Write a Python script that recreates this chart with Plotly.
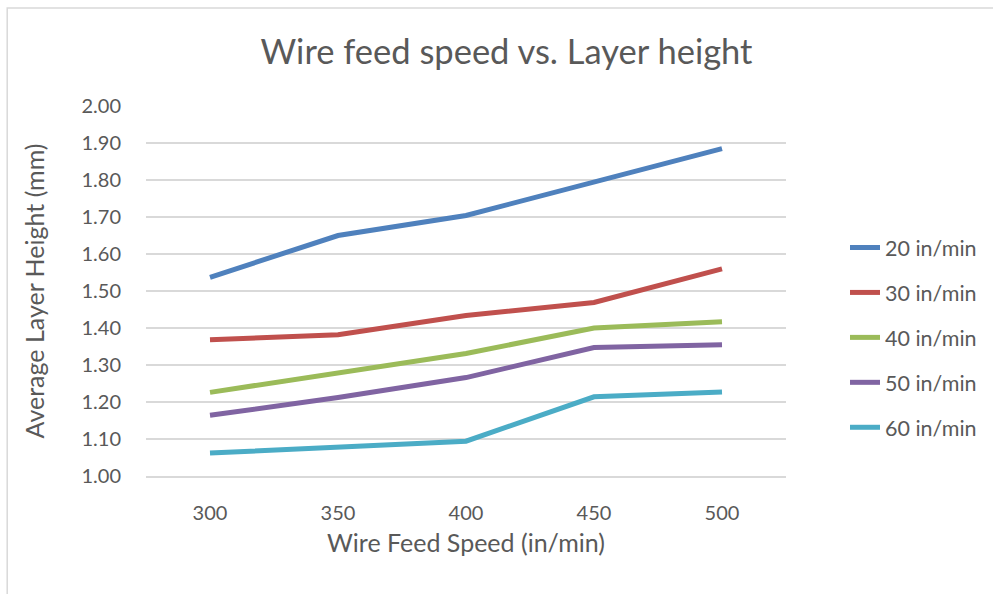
import plotly.graph_objects as go

# ---- data ----
wire_feed_speed = ["300", "350", "400", "450", "500"]
series_names = ["20 in/min", "30 in/min", "40 in/min", "50 in/min", "60 in/min"]
h_20 = [1.537, 1.650, 1.704, 1.796, 1.885]
h_30 = [1.368, 1.382, 1.434, 1.469, 1.560]
h_40 = [1.226, 1.277, 1.331, 1.400, 1.417]
h_50 = [1.164, 1.212, 1.266, 1.347, 1.355]
h_60 = [1.062, 1.077, 1.094, 1.214, 1.227]
y_ticks = [1.0, 1.1, 1.2, 1.3, 1.4, 1.5, 1.6, 1.7, 1.8, 1.9, 2.0]
y_tick_labels = ["1.00", "1.10", "1.20", "1.30", "1.40", "1.50", "1.60", "1.70", "1.80", "1.90", "2.00"]

series_values = [h_20, h_30, h_40, h_50, h_60]
colors = ["#4F81BD", "#C0504D", "#9BBB59", "#8064A2", "#4BACC6"]

FONT = "Lato"
TXT = "#595959"
GRID = "#D9D9D9"

fig = go.Figure()
for i, (name, vals) in enumerate(zip(series_names, series_values)):
    fig.add_trace(go.Scatter(
        x=wire_feed_speed, y=vals, name=name, mode="lines",
        line=dict(color=colors[i], width=5),
        legendgroup=name,
    ))

W, H = 993, 594
ml, mr, mt, mb = 146, 206, 106, 118
pw = W - ml - mr
ph = H - mt - mb

def px_x(p):
    return (p - ml) / pw

def px_y(p):
    return (H - mb - p) / ph

fig.update_layout(
    width=W, height=H,
    margin=dict(l=ml, r=mr, t=mt, b=mb, pad=0),
    paper_bgcolor="white", plot_bgcolor="white",
    font=dict(family=FONT, color=TXT, size=20),
    title=dict(text="Wire feed speed vs. Layer height", font=dict(size=34.5, color=TXT, family=FONT),
               x=506.5 / W, xanchor="center", xref="container",
               y=1 - 52 / H, yanchor="middle", yref="container"),
    xaxis=dict(type="category", range=[-0.5, 4.5], showgrid=False, showline=True,
               linecolor=GRID, linewidth=1.5, ticks="", ticklabelstandoff=18,
               tickfont=dict(size=20, color=TXT),
               title=dict(text="Wire Feed Speed (in/min)", font=dict(size=25, color=TXT), standoff=12),
               fixedrange=True),
    yaxis=dict(range=[1.0, 2.0], tickvals=y_ticks, ticktext=y_tick_labels, showgrid=True,
               gridcolor=GRID, gridwidth=1.5, zeroline=False, showline=False, ticks="",
               ticklabelstandoff=24, tickfont=dict(size=20, color=TXT),
               title=dict(text="Average Layer Height (mm)", font=dict(size=25, color=TXT), standoff=29),
               fixedrange=True),
    legend=dict(x=px_x(845), xanchor="left", y=px_y(227), yanchor="top",
                font=dict(size=21.5, color=TXT), tracegroupgap=14, bgcolor="rgba(0,0,0,0)",
                borderwidth=0),
    showlegend=True,
    shapes=[dict(type="rect", xref="paper", yref="paper",
                 x0=px_x(7), x1=px_x(1010), y0=px_y(8), y1=px_y(620),
                 line=dict(color=GRID, width=1.5), layer="below")],
)

fig.write_html("out.html")
